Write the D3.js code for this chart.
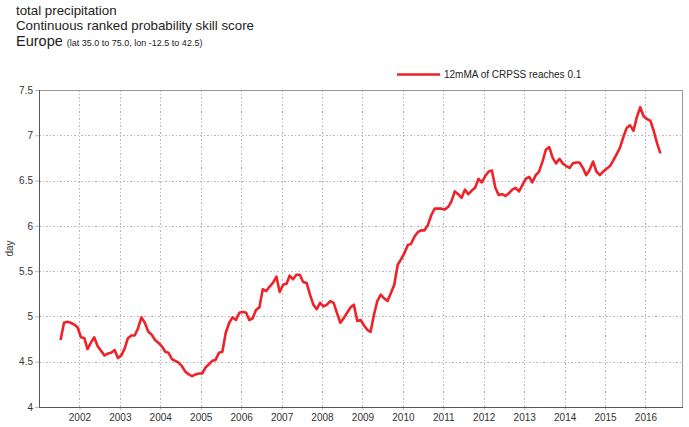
<!DOCTYPE html>
<html>
<head>
<meta charset="utf-8">
<script src="https://cdn.jsdelivr.net/npm/d3@7"></script>
<style>
  body { margin: 0; background: #fff; }
  svg { display: block; font-family: "Liberation Sans", Arial, sans-serif; }
  .grid line { stroke: #b8b8b8; stroke-dasharray: 1.5,2; shape-rendering: crispEdges; }
  .axis text { fill: #333; font-size: 10px; }
  .axis path { display: none; }
  .axis line { stroke: #bbb; }
</style>
</head>
<body>
<svg width="689" height="427"></svg>
<script>
// titles
const titleLines = ["total precipitation", "Continuous ranked probability skill score"];
const regionName = "Europe";
const regionBox = "(lat  35.0 to 75.0, lon  -12.5 to  42.5)";
const seriesName = "12mMA of CRPSS reaches 0.1";
const yLabel = "day";

// monthly series, first value is Jul 2001
const firstMonth = [2001, 7];
const crpssDays = [
  4.74, 4.93, 4.94, 4.93, 4.91, 4.88,                               // 2001 Jul-Dec
  4.77, 4.76, 4.64, 4.71, 4.77, 4.67, 4.62, 4.57, 4.59, 4.60, 4.63, 4.54, // 2002
  4.57, 4.65, 4.76, 4.79, 4.79, 4.87, 4.99, 4.93, 4.83, 4.80, 4.74, 4.71, // 2003
  4.67, 4.61, 4.60, 4.53, 4.51, 4.49, 4.45, 4.39, 4.36, 4.34, 4.36, 4.37, // 2004
  4.37, 4.44, 4.47, 4.51, 4.52, 4.60, 4.61, 4.82, 4.93, 4.99, 4.96, 5.04, // 2005
  5.05, 5.04, 4.96, 4.98, 5.07, 5.10, 5.30, 5.28, 5.33, 5.37, 5.44, 5.27, // 2006
  5.35, 5.36, 5.45, 5.41, 5.46, 5.46, 5.38, 5.37, 5.24, 5.13, 5.08, 5.15, // 2007
  5.11, 5.13, 5.17, 5.15, 5.04, 4.93, 4.98, 5.04, 5.10, 5.13, 4.95, 4.96, // 2008
  4.90, 4.85, 4.83, 5.02, 5.17, 5.24, 5.20, 5.17, 5.26, 5.35, 5.57, 5.63, // 2009
  5.70, 5.79, 5.80, 5.88, 5.93, 5.95, 5.95, 6.01, 6.12, 6.19, 6.19, 6.19, // 2010
  6.18, 6.21, 6.27, 6.38, 6.35, 6.31, 6.40, 6.35, 6.39, 6.42, 6.52, 6.48, // 2011
  6.55, 6.60, 6.61, 6.42, 6.34, 6.35, 6.33, 6.36, 6.40, 6.42, 6.38, 6.45, // 2012
  6.52, 6.54, 6.48, 6.56, 6.60, 6.71, 6.84, 6.87, 6.75, 6.69, 6.74, 6.69, // 2013
  6.66, 6.64, 6.69, 6.70, 6.70, 6.64, 6.56, 6.62, 6.71, 6.60, 6.56, 6.60, // 2014
  6.63, 6.66, 6.72, 6.79, 6.86, 6.98, 7.08, 7.11, 7.05, 7.20, 7.31, 7.21, // 2015
  7.18, 7.16, 7.05, 6.91, 6.80                                       // 2016 Jan-May
];

const yTicks = [4, 4.5, 5, 5.5, 6, 6.5, 7, 7.5];
const xTickYears = [2002, 2003, 2004, 2005, 2006, 2007, 2008, 2009, 2010,
                    2011, 2012, 2013, 2014, 2015, 2016];

// plot box
const margin = { top: 90, right: 6, bottom: 20, left: 39 };
const W = 689, H = 427;

const svg = d3.select("svg");

// mid-month dates
const data = crpssDays.map((v, i) => ({
  date: new Date(Date.UTC(firstMonth[0], firstMonth[1] - 1 + i, 15)),
  value: v
}));

const x = d3.scaleUtc()
  .domain([new Date(Date.UTC(2001, 0, 1)), new Date(Date.UTC(2016, 11, 5))])
  .range([margin.left, W - margin.right]);

const y = d3.scaleLinear()
  .domain([4, 7.5])
  .range([H - margin.bottom, margin.top]);

// grid
svg.append("g").attr("class", "grid")
  .selectAll("line.h").data(yTicks).join("line")
  .attr("x1", margin.left).attr("x2", W - margin.right)
  .attr("y1", d => Math.round(y(d)) + 0.5).attr("y2", d => Math.round(y(d)) + 0.5);

svg.append("g").attr("class", "grid")
  .selectAll("line.v").data(xTickYears).join("line")
  .attr("x1", d => Math.round(x(new Date(Date.UTC(d, 0, 1)))) + 0.5)
  .attr("x2", d => Math.round(x(new Date(Date.UTC(d, 0, 1)))) + 0.5)
  .attr("y1", margin.top).attr("y2", H - margin.bottom);

// axes
svg.append("g").attr("class", "axis")
  .attr("transform", `translate(${margin.left},0)`)
  .call(d3.axisLeft(y).tickValues(yTicks).tickSize(4).tickPadding(2)
    .tickFormat(d3.format("")));

svg.append("g").attr("class", "axis")
  .attr("transform", `translate(0,${H - margin.bottom})`)
  .call(d3.axisBottom(x)
    .tickValues(xTickYears.map(yr => new Date(Date.UTC(yr, 0, 1))))
    .tickSize(3).tickPadding(4)
    .tickFormat(d3.utcFormat("%Y")));

// frame
svg.append("rect")
  .attr("x", margin.left + 0.5).attr("y", margin.top + 0.5)
  .attr("width", W - margin.right - margin.left - 1)
  .attr("height", H - margin.bottom - margin.top)
  .attr("fill", "none").attr("stroke", "#9a9a9a");

svg.append("path")
  .attr("d", `M${margin.left + 0.5},${margin.top}V${H - margin.bottom + 0.5}H${W - margin.right}`)
  .attr("fill", "none").attr("stroke", "#555");

// series line
const line = d3.line()
  .x(d => x(d.date))
  .y(d => y(d.value));

svg.append("path")
  .datum(data)
  .attr("fill", "none")
  .attr("stroke", "#ee2229")
  .attr("stroke-width", 2.6)
  .attr("stroke-linejoin", "round")
  .attr("d", line);

// y label
svg.append("text")
  .attr("transform", `translate(13,${(margin.top + H - margin.bottom) / 2}) rotate(-90)`)
  .attr("text-anchor", "middle")
  .attr("font-size", 10)
  .attr("fill", "#333")
  .text(yLabel);

// titles
svg.selectAll("text.title").data(titleLines).join("text")
  .attr("class", "title")
  .attr("x", 16).attr("y", (d, i) => 15 + i * 15)
  .attr("font-size", 13.3).attr("fill", "#222")
  .text(d => d);

const region = svg.append("text").attr("x", 16).attr("y", 45.5)
  .attr("fill", "#222");
region.append("tspan").attr("font-size", 14.5).text(regionName + " ");
region.append("tspan").attr("font-size", 9).text(regionBox);

// legend
svg.append("line")
  .attr("x1", 397).attr("x2", 440).attr("y1", 74.5).attr("y2", 74.5)
  .attr("stroke", "#ee2229").attr("stroke-width", 2.6);
svg.append("text")
  .attr("x", 444).attr("y", 78)
  .attr("font-size", 10).attr("fill", "#222")
  .text(seriesName);
</script>
</body>
</html>
